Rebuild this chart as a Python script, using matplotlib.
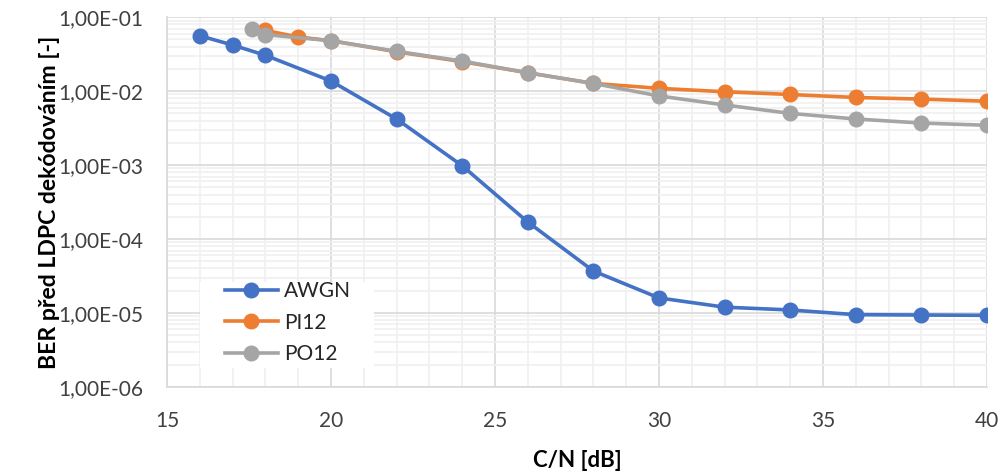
import numpy as np
import matplotlib
matplotlib.use('Agg')
from matplotlib import pyplot as plt
from matplotlib.patches import Rectangle
from matplotlib.ticker import FuncFormatter, LogLocator, MultipleLocator

plt.rcParams['font.family'] = ['Lato', 'DejaVu Sans']

# data
cn_awgn = [16, 17, 18, 20, 22, 24, 26, 28, 30, 32, 34, 36, 38, 40]
ber_awgn = [5.6e-2, 4.2e-2, 3.05e-2, 1.37e-2, 4.2e-3, 9.8e-4, 1.7e-4, 3.7e-5,
            1.6e-5, 1.2e-5, 1.1e-5, 9.5e-6, 9.4e-6, 9.3e-6]

cn_pi12 = [18, 19, 20, 22, 24, 26, 28, 30, 32, 34, 36, 38, 40]
ber_pi12 = [6.6e-2, 5.4e-2, 4.8e-2, 3.4e-2, 2.5e-2, 1.77e-2, 1.27e-2,
            1.09e-2, 9.8e-3, 9.0e-3, 8.2e-3, 7.8e-3, 7.3e-3]

cn_po12 = [17.6, 18, 20, 22, 24, 26, 28, 30, 32, 34, 36, 38, 40]
ber_po12 = [6.9e-2, 5.8e-2, 4.8e-2, 3.45e-2, 2.55e-2, 1.77e-2, 1.27e-2,
            8.6e-3, 6.5e-3, 5.0e-3, 4.2e-3, 3.7e-3, 3.45e-3]

series = [('AWGN', cn_awgn, ber_awgn, '#4472C4'),
          ('PI12', cn_pi12, ber_pi12, '#ED7D31'),
          ('PO12', cn_po12, ber_po12, '#A5A5A5')]

fig = plt.figure(figsize=(10.04, 4.76), dpi=100)
ax = fig.add_axes([0.1663, 0.187, 0.8167, 0.777])

for name, x, y, c in series:
    ax.plot(x, y, '-o', color=c, lw=2.6, ms=10.5, label=name, zorder=3)

ax.set_yscale('log')
ax.set_xlim(15, 40)
ax.set_ylim(1e-6, 1e-1)
ax.xaxis.set_major_locator(MultipleLocator(5))
ax.xaxis.set_minor_locator(MultipleLocator(1))
ax.yaxis.set_major_locator(LogLocator(base=10, numticks=10))
ax.yaxis.set_minor_locator(LogLocator(base=10, subs=np.arange(2, 10), numticks=100))

def fmt(v, pos):
    s = '%.2E' % v
    mant, ex = s.split('E')
    sign = ex[0]
    return '%s,%sE%s%02d' % (mant.split('.')[0], mant.split('.')[1], sign, abs(int(ex)))

ax.yaxis.set_major_formatter(FuncFormatter(fmt))
ax.yaxis.set_minor_formatter(FuncFormatter(lambda v, p: ''))

ax.grid(which='major', color='#D9D9D9', lw=1.2)
ax.grid(which='minor', color='#F0F0F0', lw=1.2)
ax.set_axisbelow(True)
ax.tick_params(which='both', length=0, labelsize=15, colors='#404040')
ax.tick_params(axis='x', pad=17)
ax.tick_params(axis='y', pad=17)
for s in ['top', 'right']:
    ax.spines[s].set_visible(False)
for s in ['left', 'bottom']:
    ax.spines[s].set_color('#D9D9D9')
    ax.spines[s].set_linewidth(1.2)

ax.set_xlabel('C/N [dB]', fontsize=16, fontweight='bold', color='#000000', labelpad=14)
ax.set_ylabel('BER před LDPC dekódováním [-]', fontsize=16.6, fontweight='bold',
              color='#000000', labelpad=-1)

# white legend background like Excel's
ax.add_patch(Rectangle((0.040, 0.051), 0.213, 0.232, transform=ax.transAxes,
                       facecolor='white', edgecolor='none', zorder=4))
leg = ax.legend(loc='upper left', bbox_to_anchor=(0.0707, 0.286), frameon=False,
                fontsize=15, handlelength=2.55, borderpad=0, labelspacing=0.55,
                handletextpad=0.3, borderaxespad=0)
leg.set_zorder(5)
for t in leg.get_texts():
    t.set_color('#262626')

plt.savefig('out.png', dpi=100)
